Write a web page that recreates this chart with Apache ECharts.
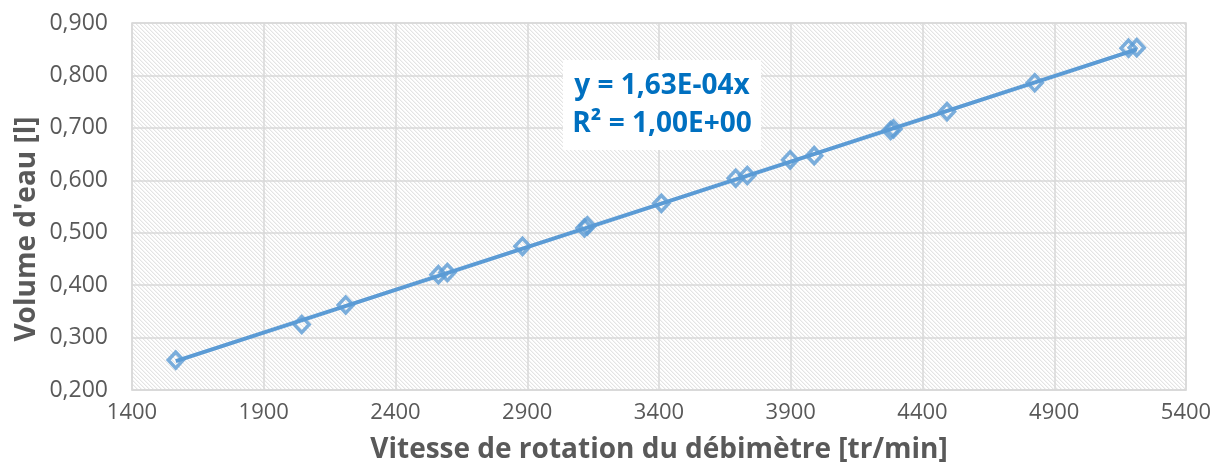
<!DOCTYPE html>
<html>
<head>
<meta charset="utf-8">
<script src="https://cdn.jsdelivr.net/npm/echarts@6/dist/echarts.min.js"></script>
<style>
html,body{margin:0;padding:0;background:#fff;}
#c{width:1227px;height:473px;}
</style>
</head>
<body>
<div id="c"></div>
<script>
// Data
const speeds = [1566, 2044, 2211, 2563, 2597, 2882, 3117, 3128, 3409, 3691, 3735, 3898, 3989, 4279, 4290, 4493, 4826, 5182, 5213];
const volumes = [0.257, 0.325, 0.362, 0.420, 0.424, 0.474, 0.509, 0.513, 0.556, 0.604, 0.609, 0.639, 0.647, 0.695, 0.698, 0.731, 0.786, 0.852, 0.853];
const trendSlope = 1.63e-4;
const equationLines = ['y = 1,63E-04x', 'R² = 1,00E+00'];
const xTitle = 'Vitesse de rotation du débimètre [tr/min]';
const yTitle = "Volume d'eau [l]";

const points = speeds.map((s, i) => [s, volumes[i]]);
const xMin = Math.min(...speeds), xMax = Math.max(...speeds);
const trend = [[xMin, trendSlope * xMin], [xMax, trendSlope * xMax]];

// hatch pattern for plot area
const tile = document.createElement('canvas');
tile.width = 4; tile.height = 4;
const tc = tile.getContext('2d');
tc.fillStyle = '#ffffff'; tc.fillRect(0, 0, 4, 4);
for (let y = 0; y < 4; y++) {
  for (let x = 0; x < 4; x++) {
    const d = ((x - y) % 4 + 4) % 4;
    if (d === 0) { tc.fillStyle = '#e4e4e4'; tc.fillRect(x, y, 1, 1); }
    else if (d === 1) { tc.fillStyle = '#f4f4f4'; tc.fillRect(x, y, 1, 1); }
  }
}

const blue = '#5B9BD5';
const font = '"Open Sans", "DejaVu Sans", sans-serif';
const chart = echarts.init(document.getElementById('c'), null, {renderer: 'canvas'});
chart.setOption({
  animation: false,
  grid: {
    show: true, left: 132, right: 41, top: 23, bottom: 83,
    containLabel: false, outerBoundsMode: 'none',
    backgroundColor: {image: tile, repeat: 'repeat'},
    borderColor: '#d9d9d9', borderWidth: 1.5
  },
  xAxis: {
    type: 'value', min: 1400, max: 5400, interval: 500,
    axisLine: {show: true, lineStyle: {color: '#d9d9d9', width: 1.5}},
    axisTick: {show: false},
    axisLabel: {fontFamily: font, fontSize: 22, color: '#595959', margin: 12,
      formatter: v => String(v)},
    splitLine: {show: true, lineStyle: {color: '#d9d9d9', width: 1.5}}
  },
  yAxis: {
    type: 'value', min: 0.2, max: 0.9, interval: 0.1,
    axisLine: {show: false},
    axisTick: {show: false},
    axisLabel: {fontFamily: font, fontSize: 23, color: '#595959', margin: 24,
      formatter: v => v.toFixed(3).replace('.', ',')},
    splitLine: {show: true, lineStyle: {color: '#d9d9d9', width: 1.5}}
  },
  series: [
    {
      type: 'line', data: trend, symbol: 'none', z: 2,
      lineStyle: {color: blue, width: 4}
    },
    {
      type: 'scatter', data: points, symbol: 'diamond', symbolSize: [15, 16], z: 3,
      itemStyle: {color: 'rgba(0,0,0,0)', borderColor: blue, borderWidth: 3.5}
    }
  ],
  graphic: [
    {
      type: 'text', z: 100, x: 659, y: 450,
      style: {text: xTitle, font: 'bold 28px ' + font, fill: '#595959', align: 'center', verticalAlign: 'middle'}
    },
    {
      type: 'text', z: 100, x: 27, y: 229, rotation: Math.PI / 2,
      style: {text: yTitle, font: 'bold 28px ' + font, fill: '#595959', align: 'center', verticalAlign: 'middle'}
    },
    {
      type: 'group', left: 563, top: 60, z: 100,
      children: [
        {type: 'rect', z: 100, shape: {x: 0, y: 0, width: 198, height: 90}, style: {fill: '#ffffff'}},
        {type: 'text', z: 101, x: 99, y: 26, style: {text: equationLines[0], font: 'bold 28px ' + font, fill: '#0070C0', align: 'center', verticalAlign: 'middle'}},
        {type: 'text', z: 101, x: 99, y: 64, style: {text: equationLines[1], font: 'bold 28px ' + font, fill: '#0070C0', align: 'center', verticalAlign: 'middle'}}
      ]
    }
  ]
});
</script>
</body>
</html>
